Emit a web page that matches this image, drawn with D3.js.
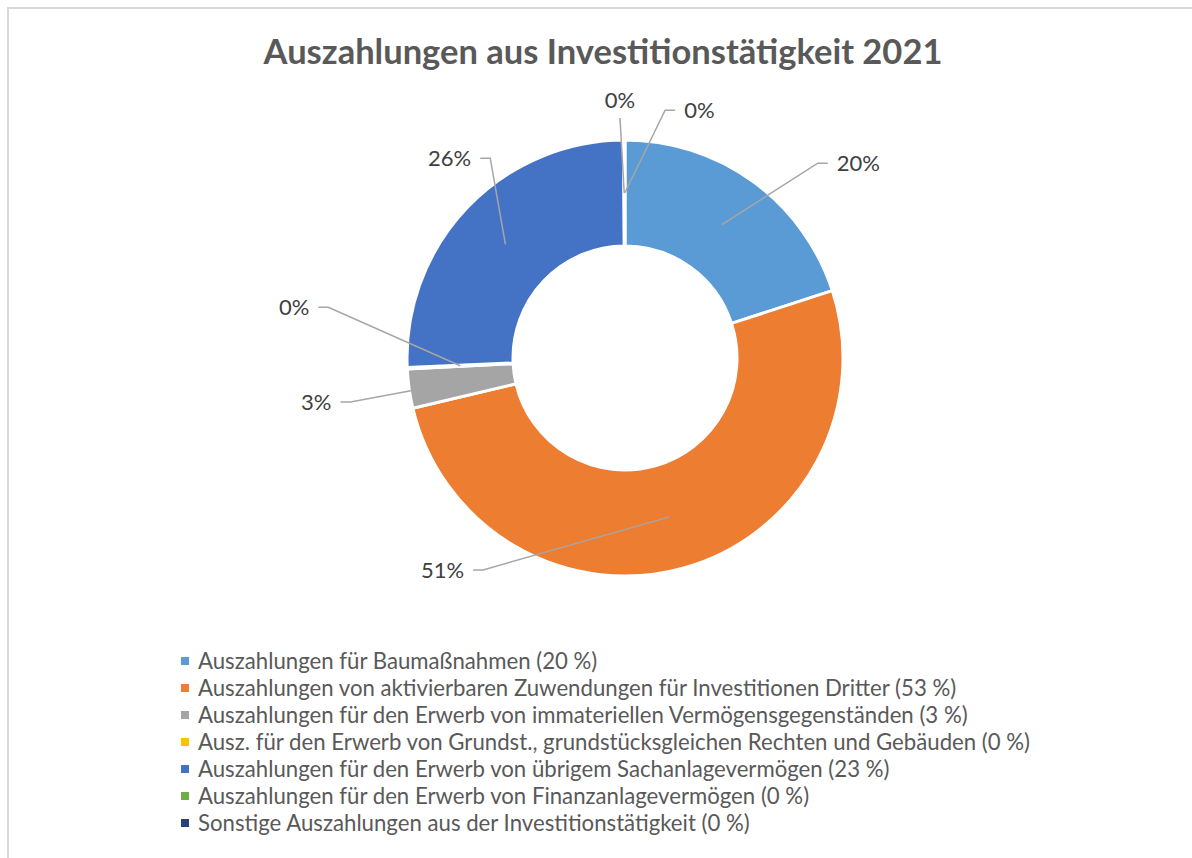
<!DOCTYPE html>
<html>
<head>
<meta charset="utf-8">
<script src="https://cdn.jsdelivr.net/npm/d3@7"></script>
<style>
  body { margin: 0; background: #fff; }
  text { font-family: Lato, "Open Sans", sans-serif; }
</style>
</head>
<body>
<div class="canvas"></div>
<script>
// data
const categories = [
  'Auszahlungen für Baumaßnahmen (20 %)',
  'Auszahlungen von aktivierbaren Zuwendungen für Investitionen Dritter (53 %)',
  'Auszahlungen für den Erwerb von immateriellen Vermögensgegenständen (3 %)',
  'Ausz. für den Erwerb von Grundst., grundstücksgleichen Rechten und Gebäuden (0 %)',
  'Auszahlungen für den Erwerb von übrigem Sachanlagevermögen (23 %)',
  'Auszahlungen für den Erwerb von Finanzanlagevermögen (0 %)',
  'Sonstige Auszahlungen aus der Investitionstätigkeit (0 %)'
];
const shares = [20.0, 51.3, 2.9, 0.1, 25.6, 0.05, 0.05];
const colours = ['#5B9BD5', '#ED7D31', '#A5A5A5', '#FFC000', '#4472C4', '#70AD47', '#264478'];
const title = 'Auszahlungen aus Investitionstätigkeit 2021';

// label placement (elbow angle in degrees, radius, side)
const labelLayout = [
  { angle: 44.7, r: 274, side: 'right' },
  { angle: 213.8, r: 255, side: 'left' },
  { angle: 260.9, r: 278, side: 'left' },
  { angle: 279.7, r: 301, side: 'left' },
  { angle: 326, r: 241, side: 'left' },
  { angle: 358.8, r: 240, side: 'top' },
  { angle: 9.2, r: 251, side: 'right' }
];

const dims = { width: 1192, height: 858, outer: 218, inner: 112 };
const cent = { x: 625, y: 358 };

const data = categories.map((c, i) => ({ name: c, value: shares[i], colour: colours[i] }));
const total = d3.sum(shares);

const svg = d3.select('.canvas')
  .append('svg')
  .attr('width', dims.width)
  .attr('height', dims.height);

// chart area border
svg.append('rect')
  .attr('x', 8).attr('y', 8)
  .attr('width', dims.width + 20).attr('height', dims.height + 20)
  .attr('fill', '#fff')
  .attr('stroke', '#d9d9d9')
  .attr('stroke-width', 2);

svg.append('text')
  .attr('x', 603)
  .attr('y', 64)
  .attr('text-anchor', 'middle')
  .attr('font-size', 34.5)
  .attr('font-weight', 'bold')
  .attr('fill', '#595959')
  .text(title);

const graph = svg.append('g')
  .attr('transform', `translate(${cent.x}, ${cent.y})`);

const pie = d3.pie()
  .sort(null)
  .value(d => d.value);

const arcPath = d3.arc()
  .outerRadius(dims.outer)
  .innerRadius(dims.inner);

const midArc = d3.arc()
  .outerRadius((dims.outer + dims.inner) / 2)
  .innerRadius((dims.outer + dims.inner) / 2);

const arcs = pie(data);

graph.selectAll('path.arc')
  .data(arcs)
  .enter()
  .append('path')
  .attr('class', 'arc')
  .attr('d', arcPath)
  .attr('fill', d => d.data.colour)
  .attr('stroke', '#fff')
  .attr('stroke-width', 3);

const fmt = d => Math.round(d.value / total * 100) + '%';

// leader lines + labels
arcs.forEach((d, i) => {
  const lay = labelLayout[i];
  const a = lay.angle * Math.PI / 180;
  const ex = lay.r * Math.sin(a);
  const ey = -lay.r * Math.cos(a);
  const start = midArc.centroid(d);
  let pts, tx, ty, anchor;
  if (lay.side === 'top') {
    pts = [start, [ex, ey]];
    tx = ex; ty = ey - 10; anchor = 'middle';
  } else {
    const dir = lay.side === 'right' ? 1 : -1;
    pts = [start, [ex, ey], [ex + dir * 10, ey]];
    tx = ex + dir * 19; ty = ey + 8; anchor = dir > 0 ? 'start' : 'end';
  }
  graph.append('path')
    .attr('d', d3.line()(pts))
    .attr('fill', 'none')
    .attr('stroke', '#a6a6a6')
    .attr('stroke-width', 1.5);
  graph.append('text')
    .attr('x', tx)
    .attr('y', ty)
    .attr('text-anchor', anchor)
    .attr('font-size', 22)
    .attr('fill', '#404040')
    .text(fmt(d.data));
});

// legend
const legend = svg.append('g')
  .attr('transform', 'translate(181, 661)');

const items = legend.selectAll('g')
  .data(data)
  .enter()
  .append('g')
  .attr('transform', (d, i) => `translate(0, ${i * 27})`);

items.append('rect')
  .attr('x', 0).attr('y', -4)
  .attr('width', 8).attr('height', 8)
  .attr('fill', d => d.colour);

items.append('text')
  .attr('x', 17)
  .attr('y', 7.5)
  .attr('font-size', 22.2)
  .attr('fill', '#595959')
  .text(d => d.name);
</script>
</body>
</html>
